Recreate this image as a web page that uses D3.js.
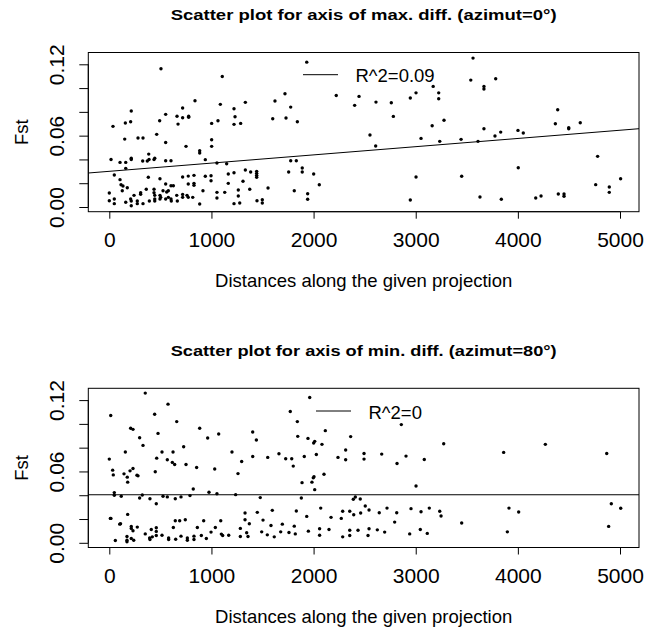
<!DOCTYPE html>
<html><head><meta charset="utf-8">
<script src="https://cdn.jsdelivr.net/npm/d3@7"></script>
<style>
body{margin:0;background:#fff}
svg{display:block}
text{font-family:"Liberation Sans",Arial,Helvetica,sans-serif;fill:#000}
</style>
</head><body>
<svg id="chart" width="649" height="630"></svg>
<script>
// ---------- data ----------
const titles = ["Scatter plot for axis of max. diff. (azimut=0\u00b0)",
                "Scatter plot for axis of min. diff. (azimut=80\u00b0)"];
const xLabel = "Distances along the given projection";
const yLabel = "Fst";
const xTicks = [0, 1000, 2000, 3000, 4000, 5000];
const yTicks = [0, 0.02, 0.04, 0.06, 0.08, 0.10, 0.12];
const yTickLabels = ["0.00", "", "", "0.06", "", "", "0.12"];
const legendLabels = ["R^2=0.09", "R^2=0"];
const fitIntercepts = [0.0300, 0.0404];
const fitSlopes = [6.91e-6, 0];

// [distance, Fst] — axis of max. difference (azimut 0°)
const maxDiffPoints = [
[506,0.1162],[839,0.0893],[718,0.0832],[215,0.0807],[552,0.0779],[663,0.0763],[718,0.075],[777,0.0763],[777,0.0755],[493,0.0725],
[157,0.0706],[209,0.0717],[36,0.0678],[673,0.0697],[1002,0.0703],[464,0.0611],[151,0.0571],[281,0.058],[330,0.058],[552,0.0543],
[751,0.051],[885,0.0473],[885,0.0454],[1002,0.0566],[1002,0.051],[17,0.040],[105,0.0375],[161,0.0375],[161,0.0325],[215,0.0411],
[215,0.040],[327,0.0387],[372,0.0387],[389,0.040],[445,0.0411],[438,0.040],[386,0.0445],[552,0.0389],[604,0.0389],[940,0.0398],
[49,0.0269],[105,0.023],[115,0.0187],[134,0.0176],[176,0.0162],[127,0.0137],[382,0.025],[496,0.0238],[552,0.0193],[604,0.0179],
[627,0.0179],[718,0.0252],[773,0.026],[829,0.0266],[773,0.0193],[829,0.0199],[829,0.0182],[940,0.0258],[996,0.0263],[996,0.0221],
[917,0.0137],[0,0.0118],[0,0.0053],[49,0.0067],[49,0.0028],[161,0.004],[209,0.0067],[215,0.005],[215,0.0011],[242,0.0098],
[274,0.005],[274,0.0028],[307,0.012],[307,0.0107],[330,0.0028],[362,0.0149],[392,0.005],[438,0.0149],[438,0.012],[445,0.0098],
[445,0.0067],[445,0.005],[496,0.0098],[496,0.0067],[503,0.0081],[526,0.0137],[552,0.0067],[562,0.0126],[578,0.0137],[578,0.0081],
[604,0.0067],[607,0.005],[660,0.0098],[666,0.005],[718,0.0106],[718,0.0081],[761,0.0098],[773,0.0081],[817,0.0081],[885,0.0025],
[1933,0.1218],[1106,0.1098],[2222,0.0938],[1720,0.0952],[1622,0.0891],[1776,0.084],[1087,0.0863],[1332,0.088],[1221,0.0826],[1231,0.0759],
[1064,0.0725],[1221,0.0695],[1286,0.0703],[1600,0.0742],[1730,0.0748],[1841,0.0717],[1054,0.037],[1149,0.0364],[1776,0.0389],[1831,0.0389],
[1165,0.0277],[1221,0.0288],[1332,0.0311],[1384,0.0294],[1443,0.030],[1443,0.0283],[1443,0.0266],[1443,0.025],[1756,0.0294],[1889,0.0328],
[1889,0.0294],[2001,0.0277],[1165,0.0199],[1309,0.0216],[1554,0.016],[1375,0.0149],[2056,0.0187],[1054,0.0123],[1054,0.0076],[1130,0.0123],
[1263,0.0143],[1263,0.0092],[1277,0.0034],[1221,0.0028],[1446,0.0053],[1498,0.0061],[1498,0.0034],[1811,0.0137],[1942,0.0112],[1942,0.0065],
[2402,0.0855],[2445,0.093],[2552,0.0605],[2608,0.0513],[2611,0.0882],[2761,0.0877],[2781,0.0762],[2947,0.0916],[3003,0.096],[2947,0.0059],
[3003,0.0252],[3052,0.0577],[3161,0.0683],[3171,0.1014],[3225,0.096],[3225,0.091],[3235,0.0552],[3277,0.0729],[3444,0.0569],[3450,0.0258],
[3539,0.1067],[3561,0.1252],[3610,0.0552],[3629,0.0084],[3668,0.1014],[3668,0.0992],[3668,0.0658],[3776,0.0597],[3783,0.1078],[3832,0.063],
[3838,0.0065],[4001,0.0644],[4053,0.0622],[4004,0.033],[4175,0.0076],[4227,0.0092],[4367,0.070],[4390,0.0818],[4396,0.0109],[4452,0.0109],
[4452,0.009],[4498,0.0667],[4498,0.0658],[4611,0.0709],[4762,0.0188],[4781,0.0426],[4895,0.0168],[4895,0.0123],[5006,0.0238]
];

// [distance, Fst] — axis of min. difference (azimut 80°)
const minDiffPoints = [
[352,0.1259],[14,0.107],[444,0.1081],[575,0.1166],[660,0.1019],[209,0.0963],[232,0.0954],[477,0.092],[885,0.0963],[297,0.0884],
[963,0.0881],[330,0.0819],[728,0.0808],[157,0.0763],[516,0.0763],[624,0.0763],[0,0.0704],[464,0.0712],[568,0.0698],[617,0.0676],
[640,0.0659],[751,0.0659],[855,0.0633],[33,0.0611],[39,0.0571],[144,0.058],[176,0.0552],[180,0.051],[203,0.0605],[232,0.0625],
[271,0.0569],[281,0.0563],[450,0.0597],[822,0.0453],[976,0.0425],[49,0.0422],[49,0.040],[117,0.0391],[297,0.0377],[323,0.0402],
[398,0.0371],[460,0.0329],[526,0.0391],[568,0.0386],[646,0.0371],[702,0.0386],[790,0.0397],[10,0.0205],[16,0.0205],[102,0.0157],
[110,0.016],[180,0.0239],[215,0.0138],[274,0.0132],[232,0.0101],[215,0.0121],[460,0.0126],[460,0.0096],[411,0.0112],[646,0.0185],
[689,0.0185],[744,0.0194],[627,0.0129],[862,0.0129],[924,0.0185],[996,0.009],[59,0.0019],[173,0.0053],[173,0.0022],[173,0.0008],
[215,0.0036],[239,0.0022],[352,0.0075],[395,0.0041],[398,0.0028],[421,0.005],[460,0.0062],[516,0.0064],[581,0.0041],[581,0.0028],
[650,0.003],[702,0.0056],[764,0.0041],[764,0.0022],[829,0.0056],[829,0.0028],[901,0.0062],[950,0.0036],
[1962,0.1222],[1772,0.1104],[1841,0.1019],[1071,0.0915],[1404,0.0932],[1440,0.0865],[1845,0.0895],[1945,0.0878],[2001,0.0839],[2011,0.0853],
[2082,0.0828],[2115,0.0943],[1201,0.0763],[1296,0.0684],[1404,0.0726],[1551,0.0718],[1661,0.0749],[1727,0.0707],[1786,0.0707],[1801,0.0645],
[1909,0.0726],[2027,0.0743],[2239,0.0718],[1032,0.062],[1260,0.0582],[1887,0.0506],[1984,0.051],[1997,0.0546],[2004,0.0555],[2011,0.0447],
[2102,0.0577],[1054,0.0413],[1237,0.0405],[1478,0.038],[1880,0.0377],[1091,0.0185],[1329,0.025],[1329,0.0194],[1449,0.0256],[1596,0.0273],
[1505,0.0191],[1831,0.0267],[1933,0.0222],[2070,0.0292],[2171,0.0214],[2271,0.0205],[2285,0.0265],[1038,0.0129],[1097,0.0073],[1110,0.0062],
[1169,0.0064],[1283,0.0121],[1283,0.0053],[1345,0.0084],[1358,0.0053],[1371,0.016],[1492,0.0092],[1547,0.0067],[1583,0.0146],[1615,0.005],
[1678,0.0092],[1694,0.0157],[1759,0.0087],[1811,0.014],[1821,0.0075],[1949,0.0098],[2059,0.0118],[2059,0.0064],[2151,0.0112],[2285,0.005],
[2314,0.078],[2314,0.0698],[2363,0.0893],[2494,0.0751],[2494,0.0704],[2667,0.0746],[2817,0.0667],[2859,0.0994],[2905,0.0729],[3084,0.0701],
[3274,0.0833],[3003,0.0478],[3861,0.076],[4269,0.0828],[4870,0.0751],[2389,0.0366],[2409,0.0385],[2457,0.0368],[2354,0.0265],[2393,0.0236],
[2461,0.025],[2506,0.0309],[2543,0.0276],[2643,0.0253],[2719,0.0292],[2814,0.0253],[2954,0.0287],[3052,0.0261],[3133,0.0292],[3235,0.0265],
[3248,0.0225],[2794,0.0174],[3450,0.0166],[3913,0.0292],[4008,0.0259],[4915,0.0329],[5007,0.029],[4889,0.0138],[3897,0.0092],[2354,0.0062],
[2354,0.0106],[2435,0.0106],[2533,0.0062],[2543,0.0118],[2624,0.0109],[2696,0.009],[2941,0.0075],[3045,0.0112],[3113,0.0079]
];
const panelPoints = [maxDiffPoints, minDiffPoints];

// ---------- layout ----------
const svg = d3.select("#chart");
const W = 649, H = 630;
const panelOffset = 335.8;
const box = {left: 88.3, right: 639, top: 52.5, bottom: 211.7};
const tickFont = 21, labFont = 18.5;

const x = d3.scaleLinear().domain([0, 5000]).range([109.3, 620]);

panelPoints.forEach((pts, i) => {
  const off = i * panelOffset;
  const g = svg.append("g");
  const y = d3.scaleLinear().domain([0, 0.12]).range([207 + off, 64.3 + off]);
  const bTop = box.top + off, bBot = box.bottom + off;

  // title
  g.append("text").attr("x", (box.left + box.right) / 2).attr("y", 20 + off)
    .attr("text-anchor", "middle").attr("font-weight", "bold")
    .attr("font-size", 15).attr("textLength", 386).attr("lengthAdjust", "spacingAndGlyphs")
    .text(titles[i]);

  // box
  g.append("rect").attr("x", box.left).attr("y", bTop)
    .attr("width", box.right - box.left).attr("height", bBot - bTop)
    .attr("fill", "none").attr("stroke", "#000").attr("stroke-width", 1);

  // x axis
  const xa = g.append("g").attr("transform", `translate(0,${bBot})`)
    .call(d3.axisBottom(x).tickValues(xTicks).tickSize(7).tickPadding(2).tickFormat(d3.format("d")));
  xa.select(".domain").attr("d", `M${x(xTicks[0])},0H${x(xTicks[xTicks.length-1])}`).attr("stroke", "#000");
  xa.selectAll(".tick line").attr("stroke", "#000");
  xa.selectAll(".tick text").attr("font-size", tickFont).attr("font-family", null)
    .attr("dy", null).attr("y", 246.7 - 211.7);

  // y axis
  const ya = g.append("g").attr("transform", `translate(${box.left},0)`)
    .call(d3.axisLeft(y).tickValues(yTicks).tickSize(9).tickFormat((d, k) => yTickLabels[k]));
  ya.select(".domain").attr("d", `M0,${y(yTicks[0])}V${y(yTicks[yTicks.length-1])}`).attr("stroke", "#000");
  ya.selectAll(".tick line").attr("stroke", "#000");
  ya.selectAll(".tick text").attr("font-size", tickFont).attr("font-family", null)
    .attr("x", null).attr("dy", null).attr("text-anchor", "middle")
    .attr("transform", `translate(${64 - box.left},0) rotate(-90)`);

  // axis titles
  g.append("text").attr("x", (box.left + box.right) / 2).attr("y", 286.7 + off)
    .attr("text-anchor", "middle").attr("font-size", labFont).text(xLabel);
  g.append("text").attr("text-anchor", "middle").attr("font-size", labFont)
    .attr("transform", `translate(28,${(bTop + bBot) / 2}) rotate(-90)`).text(yLabel);

  // regression line
  const fit = d => fitIntercepts[i] + fitSlopes[i] * d;
  const xd = x.invert(box.left), xe = x.invert(box.right);
  g.append("line").attr("x1", box.left).attr("x2", box.right)
    .attr("y1", y(fit(xd))).attr("y2", y(fit(xe)))
    .attr("stroke", "#000").attr("stroke-width", 1);

  // points
  g.append("g").selectAll("circle").data(pts).join("circle")
    .attr("cx", d => x(d[0])).attr("cy", d => y(d[1])).attr("r", 1.7).attr("fill", "#000");

  // legend
  const legX = [303, 316][i], legY = [74.7, 411][i] - off;
  g.append("line").attr("x1", legX).attr("x2", legX + 35)
    .attr("y1", legY + off).attr("y2", legY + off).attr("stroke", "#000").attr("stroke-width", 1);
  g.append("text").attr("x", legX + 52.5).attr("y", legY + off + 7.6)
    .attr("font-size", labFont).text(legendLabels[i]);
});
</script>
</body></html>
